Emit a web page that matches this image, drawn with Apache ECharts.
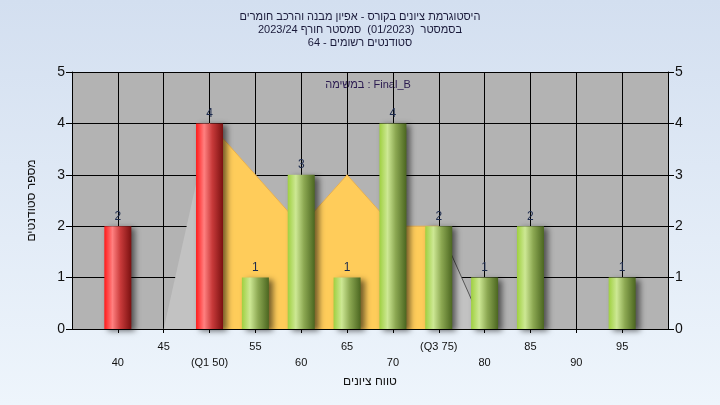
<!DOCTYPE html>
<html>
<head>
<meta charset="utf-8">
<script src="https://cdn.jsdelivr.net/npm/echarts@6/dist/echarts.min.js"></script>
<style>html,body{margin:0;padding:0;}#c{width:720px;height:405px;}</style>
</head>
<body>
<div id="c"></div>
<script>
var categories = [40, 45, 50, 55, 60, 65, 70, 75, 80, 85, 90, 95];
var xTickLabels = ['40', '45', '(Q1 50)', '55', '60', '65', '70', '(Q3 75)', '80', '85', '90', '95'];
var counts = [2, 0, 4, 1, 3, 1, 4, 2, 1, 2, 0, 1];
var barKind = ['red', 'red', 'red', 'green', 'green', 'green', 'green', 'green', 'green', 'green', 'green', 'green'];
var curveValues = [0, 0, 4, 3, 2, 3, 2, 2, 0, 0, 0, 0];
var q1 = 50, q3 = 75;
var titleLines = ['היסטוגרמת ציונים בקורס - אפיון מבנה והרכב חומרים', 'בסמסטר  (01/2023)  סמסטר חורף 2023/24', 'סטודנטים רשומים - 64'];
var legendText = 'במשימה : Final_B';
var xName = 'טווח ציונים';
var yName = 'מספר סטודנטים';

var FONT = 'Liberation Sans';
var redGrad = new echarts.graphic.LinearGradient(0, 0, 1, 0, [
  {offset: 0, color: '#ff1a1a'}, {offset: 0.3, color: '#ff8080'},
  {offset: 0.6, color: '#c83a3a'}, {offset: 1, color: '#7a1010'}]);
var greenGrad = new echarts.graphic.LinearGradient(0, 0, 1, 0, [
  {offset: 0, color: '#9fd040'}, {offset: 0.3, color: '#cde894'},
  {offset: 0.6, color: '#8ca852'}, {offset: 1, color: '#4b6620'}]);

var barData = categories.map(function (c, i) {
  return {value: [c, counts[i]], itemStyle: {color: barKind[i] === 'red' ? redGrad : greenGrad},
    label: {show: counts[i] > 0}};
});
var grayArea = categories.map(function (c, i) { return [c, curveValues[i]]; });
var orangeArea = [];
categories.forEach(function (c, i) { if (c >= q1 && c <= q3) orangeArea.push([c, curveValues[i]]); });
var tailLine = [];
categories.forEach(function (c, i) { if (c >= q3 && c <= q3 + 5) tailLine.push([c, curveValues[i]]); });
var labelMap = {};
categories.forEach(function (c, i) { labelMap[c] = xTickLabels[i]; });

var yAxisBase = {
  type: 'value', min: 0, max: 5, interval: 1,
  axisLine: {show: true, lineStyle: {color: '#000'}},
  axisTick: {show: true, length: 6, lineStyle: {color: '#000'}},
  axisLabel: {fontFamily: FONT, fontSize: 14, color: '#111', margin: 7},
  splitLine: {show: true, lineStyle: {color: '#000', width: 1}}
};

var titleGraphics = titleLines.map(function (t, i) {
  return {
    type: 'text', x: 360, y: 17 + i * 13,
    style: {text: t, fontFamily: FONT, fontSize: 11, fill: '#1a1a3a', textAlign: 'center', textVerticalAlign: 'middle'}
  };
});

var chart = echarts.init(document.getElementById('c'));
chart.setOption({
  animation: false,
  backgroundColor: new echarts.graphic.LinearGradient(0, 0, 0, 1, [
    {offset: 0, color: '#d3dff0'}, {offset: 1, color: '#eef5fc'}]),
  grid: {left: 72, right: 52, top: 72, bottom: 76, show: true, backgroundColor: '#b3b3b3', borderWidth: 0},
  graphic: titleGraphics.concat([{
    type: 'text', x: 368, y: 85,
    style: {text: legendText, fontFamily: FONT, fontSize: 11, fill: '#2a1a50', textAlign: 'center', textVerticalAlign: 'middle'}
  }]),
  xAxis: {
    type: 'value', min: 35, max: 100, interval: 5,
    name: xName, nameLocation: 'middle', nameGap: 47,
    nameTextStyle: {fontFamily: FONT, fontSize: 12, color: '#111'},
    axisLine: {show: true, lineStyle: {color: '#000'}},
    axisTick: {show: true, length: 4, lineStyle: {color: '#000'}},
    axisLabel: {
      fontFamily: FONT, fontSize: 11, color: '#111', margin: 10, lineHeight: 16,
      showMinLabel: false, showMaxLabel: false,
      formatter: function (v) {
        var l = labelMap[v];
        if (l === undefined) return '';
        return ((v - 40) % 10 === 0) ? '\n' + l : l;
      }
    },
    splitLine: {show: true, lineStyle: {color: '#000', width: 1}}
  },
  yAxis: [
    Object.assign({}, yAxisBase, {
      position: 'left', name: yName, nameLocation: 'middle', nameGap: 34, nameRotate: 90,
      nameTextStyle: {fontFamily: FONT, fontSize: 12, color: '#111'}
    }),
    Object.assign({}, yAxisBase, {position: 'right', splitLine: {show: false}})
  ],
  series: [
    {
      type: 'line', data: grayArea, symbol: 'none', z: 1,
      lineStyle: {width: 0, color: '#c2c2c2'},
      areaStyle: {color: '#c2c2c2', opacity: 1}
    },
    {
      type: 'line', data: orangeArea, symbol: 'none', z: 2,
      lineStyle: {width: 1, color: '#e8b050'},
      areaStyle: {color: '#ffcc5a', opacity: 1}
    },
    {
      type: 'line', data: tailLine, symbol: 'none', z: 2,
      lineStyle: {width: 1, color: '#555'}
    },
    {
      type: 'bar', data: barData, barWidth: 27, z: 5,
      itemStyle: {shadowBlur: 6, shadowColor: 'rgba(0,0,0,0.55)', shadowOffsetX: 4, shadowOffsetY: 2},
      label: {show: true, position: 'top', distance: 4, fontFamily: FONT, fontSize: 12, color: '#1c2a4c'}
    }
  ]
});
</script>
</body>
</html>
